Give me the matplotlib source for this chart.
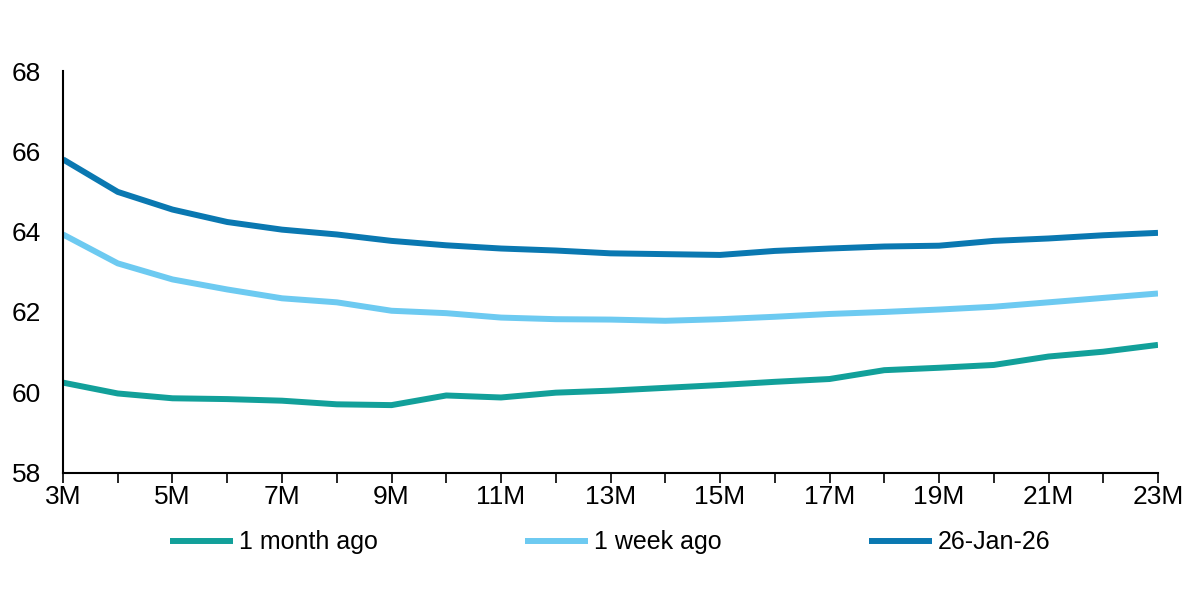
import numpy as np
import matplotlib.pyplot as plt
from matplotlib import font_manager

tenors = list(range(3, 24))
tick_labels = [f'{m}M' if m % 2 == 1 else '' for m in tenors]

month_ago = [60.24, 59.97, 59.85, 59.83, 59.79, 59.70, 59.68, 59.92, 59.87, 59.99,
             60.04, 60.11, 60.18, 60.26, 60.33, 60.55, 60.61, 60.68, 60.89, 61.01, 61.18]
week_ago = [63.93, 63.21, 62.81, 62.56, 62.34, 62.24, 62.03, 61.97, 61.86, 61.82,
            61.81, 61.78, 61.82, 61.88, 61.95, 62.00, 62.06, 62.13, 62.24, 62.35, 62.46]
latest = [65.80, 64.99, 64.55, 64.24, 64.05, 63.93, 63.77, 63.66, 63.58, 63.53,
          63.46, 63.44, 63.42, 63.52, 63.58, 63.63, 63.65, 63.77, 63.83, 63.91, 63.97]

series_names = ['1 month ago', '1 week ago', '26-Jan-26']
colors = ['#12a09a', '#6dcaf1', '#0a78b1']

names = {f.name for f in font_manager.fontManager.ttflist}
fam = 'Liberation Sans Narrow' if 'Liberation Sans Narrow' in names else 'Liberation Sans'
plt.rcParams['font.family'] = [fam, 'DejaVu Sans']

fig = plt.figure(figsize=(12, 6.02), dpi=100)
ax = fig.add_axes([0.0525, 0.215, 0.9125, 0.667])

for vals, name, c in zip([month_ago, week_ago, latest], series_names, colors):
    ax.plot(tenors, vals, color=c, lw=4.3, label=name, solid_capstyle='butt')

ax.set_xlim(3, 23)
ax.set_ylim(58, 68)
ax.set_yticks(np.arange(58, 69, 2))
ax.set_xticks(tenors)
ax.set_xticklabels(tick_labels)
ax.tick_params(axis='y', length=0, labelsize=19, pad=16)
ax.tick_params(axis='x', direction='out', length=7, width=1.2, labelsize=19, pad=2)
for s in ['top', 'right']:
    ax.spines[s].set_visible(False)
for s in ['left', 'bottom']:
    ax.spines[s].set_linewidth(1.5)
    ax.spines[s].set_color('black')

ax.legend(loc='upper center', bbox_to_anchor=(0.5, -0.088), ncol=3, frameon=False,
          fontsize=18, handlelength=2.5, handletextpad=0.25, columnspacing=5.9)

fig.savefig('out.png', dpi=100)
